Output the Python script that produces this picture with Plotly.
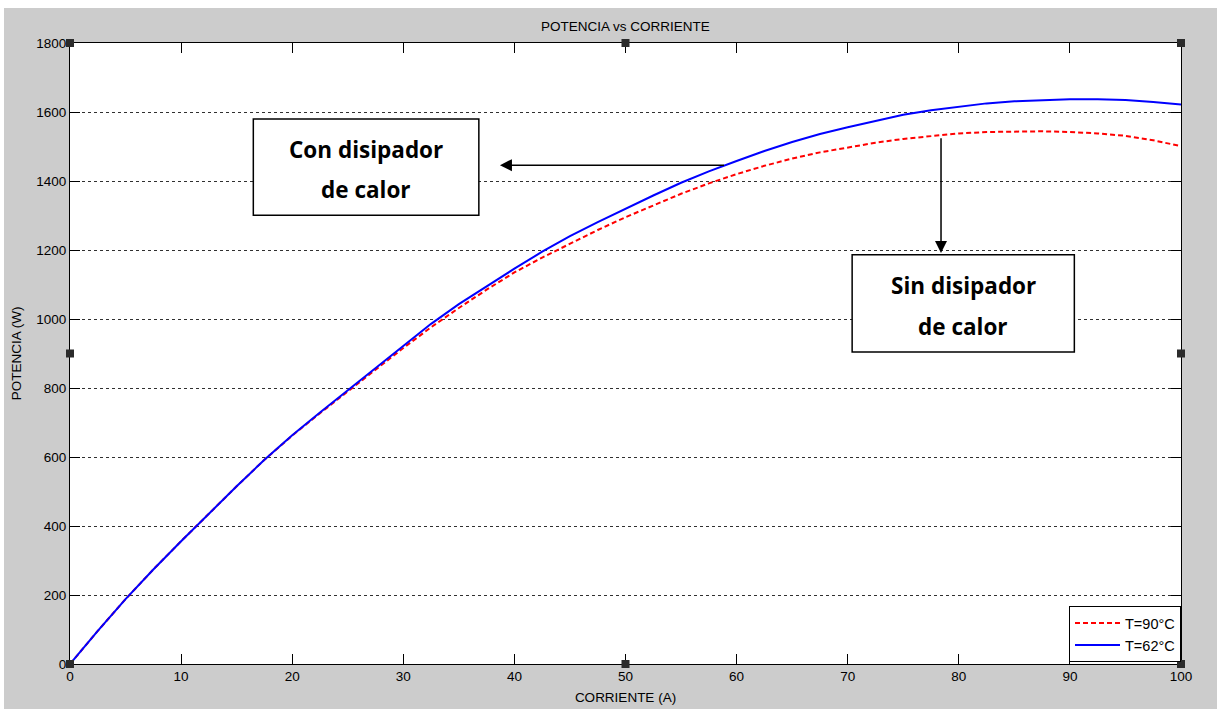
import plotly.graph_objects as go

# ---------------- data ----------------
corriente = [0, 2.5, 5, 7.5, 10, 12.5, 15, 17.5, 20, 22.5, 25, 27.5, 30, 32.5, 35, 37.5, 40,
             42.5, 45, 47.5, 50, 52.5, 55, 57.5, 60, 62.5, 65, 67.5, 70, 72.5, 75, 77.5, 80,
             82.5, 85, 87.5, 90, 92.5, 95, 97.5, 100]
pot_62 = [0, 96, 188, 274, 356, 436, 515, 592, 663, 729, 793, 858, 923, 986, 1043, 1095, 1146,
          1195, 1240, 1281, 1320, 1358, 1395, 1428, 1458, 1487, 1513, 1536, 1556, 1575, 1592,
          1605, 1616, 1625, 1631, 1635, 1637, 1637, 1635, 1629, 1622]
pot_90 = [0, 96, 188, 274, 356, 436, 515, 592, 662, 727, 790, 853, 916, 976, 1032, 1085, 1135,
          1178, 1218, 1258, 1295, 1330, 1363, 1393, 1420, 1444, 1465, 1483, 1498, 1511, 1522,
          1531, 1538, 1542, 1544, 1544, 1542, 1538, 1531, 1518, 1501]
series_names = ["T=90°C", "T=62°C"]
x_ticks = [0, 10, 20, 30, 40, 50, 60, 70, 80, 90, 100]
y_ticks = [0, 200, 400, 600, 800, 1000, 1200, 1400, 1600, 1800]

FONT = "Liberation Sans, Arial, sans-serif"
BOLD = "Open Sans, Calibri, sans-serif"

fig = go.Figure()
fig.add_trace(go.Scatter(x=corriente, y=pot_90, mode="lines", name=series_names[0],
                         line=dict(color="#ff0000", width=2, dash="5px,3px")))
fig.add_trace(go.Scatter(x=corriente, y=pot_62, mode="lines", name=series_names[1],
                         line=dict(color="#0000ff", width=2)))

axis_common = dict(showline=True, linecolor="black", linewidth=1, mirror="ticks",
                   ticks="inside", ticklen=10, tickcolor="black", tickwidth=1,
                   tickfont=dict(family=FONT, size=13.5, color="black"),
                   zeroline=False, automargin=False)

fig.update_xaxes(range=[0, 100], tickvals=x_ticks, showgrid=False,
                 title=dict(text="CORRIENTE (A)", font=dict(family=FONT, size=13.5, color="black"),
                            standoff=9),
                 **axis_common)
fig.update_yaxes(range=[0, 1800], tickvals=y_ticks, showgrid=True, gridcolor="#303030",
                 griddash="3px,3px", gridwidth=1,
                 title=dict(text="POTENCIA (W)", font=dict(family=FONT, size=13.5, color="black"),
                            standoff=11),
                 **axis_common)

shapes = []
# white strips of the screenshot border
shapes.append(dict(type="rect", xref="paper", yref="paper", x0=-0.1, x1=1.1,
                   y0=(664 - 8) / 621, y1=1.2, fillcolor="white", line=dict(width=0), layer="below"))
shapes.append(dict(type="rect", xref="paper", yref="paper", x0=-0.1, x1=-66 / 1111,
                   y0=-0.2, y1=1.2, fillcolor="white", line=dict(width=0), layer="below"))
# annotation boxes
shapes.append(dict(type="rect", xref="x", yref="y", x0=16.5, x1=36.8, y0=1301, y1=1580,
                   fillcolor="white", line=dict(color="black", width=1.5)))
shapes.append(dict(type="rect", xref="x", yref="y", x0=70.4, x1=90.4, y0=904, y1=1186,
                   fillcolor="white", line=dict(color="black", width=1.5)))
# figure selection handles
for hx, hy in [(0, 1), (0.5, 1), (1, 1), (0, 0.5), (1, 0.5), (0, 0), (0.5, 0), (1, 0)]:
    shapes.append(dict(type="rect", xref="paper", yref="paper",
                       xsizemode="pixel", ysizemode="pixel", xanchor=hx, yanchor=hy,
                       x0=-4, x1=4, y0=-4, y1=4, fillcolor="#2b2b2b",
                       line=dict(width=0)))

bold_font = dict(family=BOLD, size=22.5, color="black")
annotations = [
    dict(text="POTENCIA vs CORRIENTE", xref="paper", yref="paper", x=0.5, y=(664 - 26) / 621,
         showarrow=False, font=dict(family=FONT, size=13.5, color="black"), yanchor="middle"),
    dict(text="<b>Con disipador</b>", x=26.6, y=1490, xref="x", yref="y", showarrow=False,
         font=bold_font, yanchor="middle"),
    dict(text="<b>de calor</b>", x=26.6, y=1374, xref="x", yref="y", showarrow=False,
         font=bold_font, yanchor="middle"),
    dict(text="<b>Sin disipador</b>", x=80.4, y=1096, xref="x", yref="y", showarrow=False,
         font=bold_font, yanchor="middle"),
    dict(text="<b>de calor</b>", x=80.4, y=977, xref="x", yref="y", showarrow=False,
         font=bold_font, yanchor="middle"),
    dict(text="", x=38.7, y=1446, ax=59.0, ay=1446, xref="x", yref="y", axref="x", ayref="y",
         showarrow=True, arrowhead=2, arrowsize=1.6, arrowwidth=1.5, arrowcolor="black"),
    dict(text="", x=78.4, y=1191, ax=78.4, ay=1528, xref="x", yref="y", axref="x", ayref="y",
         showarrow=True, arrowhead=2, arrowsize=1.6, arrowwidth=1.5, arrowcolor="black"),
]

fig.update_layout(
    width=1217, height=709,
    margin=dict(l=70, r=36, t=43, b=45),
    paper_bgcolor="#cccccc", plot_bgcolor="white",
    font=dict(family=FONT, size=13.5, color="black"),
    showlegend=True,
    legend=dict(x=1, y=0.003, xanchor="right", yanchor="bottom", bgcolor="white",
                bordercolor="black", borderwidth=1, font=dict(family=FONT, size=14.5),
                tracegroupgap=0, itemwidth=45),
    shapes=shapes, annotations=annotations,
)

fig.write_html("out.html", config={"displayModeBar": False},
               post_script="document.body.style.margin='0';document.body.style.overflow='hidden';")
